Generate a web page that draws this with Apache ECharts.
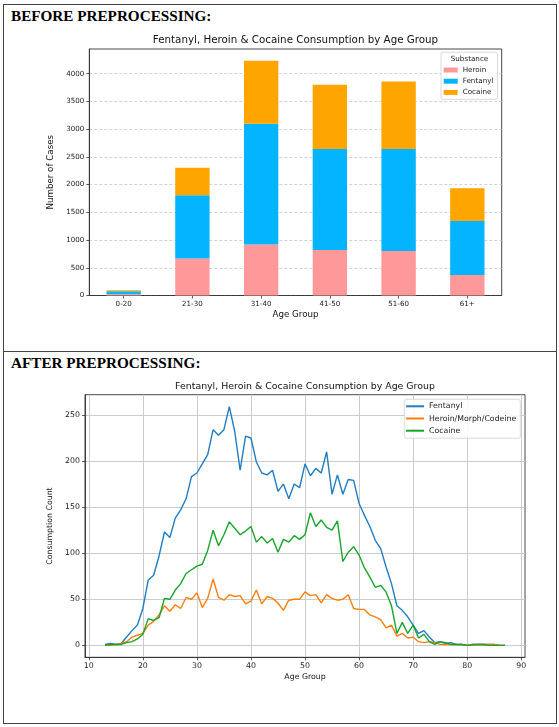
<!DOCTYPE html>
<html><head><meta charset="utf-8">
<script src="https://cdn.jsdelivr.net/npm/echarts@6/dist/echarts.min.js"></script>
<style>
html,body{margin:0;padding:0;background:#fff;width:559px;height:727px;overflow:hidden;}
#frame{position:absolute;left:3px;top:4px;width:554px;height:720px;border:1.4px solid #444;box-sizing:border-box;}
#divider{position:absolute;left:3px;top:351px;width:554px;height:0;border-top:1.4px solid #444;}
.hdr{position:absolute;left:11px;font-family:"Liberation Serif","Times New Roman",serif;font-weight:bold;font-size:15.2px;line-height:16px;color:#000;white-space:nowrap;}
#chart{position:absolute;left:0;top:0;width:559px;height:727px;}
</style></head><body>
<div id="frame"></div><div id="divider"></div>
<div class="hdr" style="top:7.6px">BEFORE PREPROCESSING:</div>
<div class="hdr" style="top:354.5px">AFTER PREPROCESSING:</div>
<div id="chart"></div>
<script>
// ---- Top chart data (stacked bars) ----
const ageGroups = ['0-20', '21-30', '31-40', '41-50', '51-60', '61+'];
const heroinCases = [24, 666, 918, 822, 804, 372];
const fentanylCases = [54, 1141, 2182, 1822, 1840, 973];
const cocaineCases = [18, 495, 1134, 1158, 1218, 588];
const barYTicks = [0, 500, 1000, 1500, 2000, 2500, 3000, 3500, 4000];

// ---- Bottom chart data (lines by age) ----
const ages = [13,14,15,16,17,18,19,20,21,22,23,24,25,26,27,28,29,30,31,32,33,34,35,36,37,38,39,40,
  41,42,43,44,45,46,47,48,49,50,51,52,53,54,55,56,57,58,59,60,61,62,63,64,65,66,67,68,69,70,
  71,72,73,74,75,76,77,78,79,80,81,82,83,84,85,86,87];
const fentanylCount = [1,2,1,2,9,16,22,40,71,76,97,123,117,138,147,159,183,187,197,207,234,228,234,259,232,190,227,225,
  199,187,185,190,167,175,159,175,171,197,184,192,187,210,164,185,164,180,179,154,141,129,114,105,85,67,43,38,31,22,
  13,16,9,3,4,2,3,1,1,0,1,1,1,1,1,0,0];
const heroinCount = [0,0,1,2,4,9,11,13,22,26,33,43,37,44,40,52,50,57,41,51,72,52,49,55,53,54,45,48,
  60,45,53,51,46,38,49,50,50,58,54,55,46,55,51,49,50,55,40,39,39,33,31,28,19,22,10,13,8,9,
  4,3,4,3,1,1,1,1,1,0,0,1,1,1,1,0,0];
const cocaineCount = [0,1,1,1,3,4,7,12,29,27,30,51,50,60,67,78,82,86,88,103,125,108,120,134,127,120,124,129,
  112,118,111,116,101,115,112,119,115,120,144,129,136,128,125,135,91,101,107,98,84,74,63,65,58,43,13,25,13,22,
  8,12,4,1,4,3,1,1,1,0,1,1,1,0,0,0,0];
const lineXTicks = [10, 20, 30, 40, 50, 60, 70, 80, 90];
const lineYTicks = [0, 50, 100, 150, 200, 250];

const FONT = 'DejaVu Sans';
const chart = echarts.init(document.getElementById('chart'), null, {renderer: 'canvas'});
const pair = (vals) => ages.map((a, i) => [a, vals[i]]);
const plain = (v) => String(v);

const option = {
  animation: false,
  textStyle: {fontFamily: FONT},
  graphic: [
    {type: 'text', z: 100, x: 295.5, y: 40.7, style: {text: 'Fentanyl, Heroin & Cocaine Consumption by Age Group', fontSize: 10.3, fontFamily: FONT, fill: '#111', align: 'center', verticalAlign: 'middle'}},
    {type: 'text', z: 100, x: 305, y: 386.7, style: {text: 'Fentanyl, Heroin & Cocaine Consumption by Age Group', fontSize: 9.4, fontFamily: FONT, fill: '#111', align: 'center', verticalAlign: 'middle'}},
    {type: 'text', z: 100, x: 469.5, y: 59, style: {text: 'Substance', fontSize: 7.2, fontFamily: FONT, fill: '#222', align: 'center', verticalAlign: 'middle'}}
  ],
  grid: [
    {left: 89.3, top: 49, width: 412.4, height: 246.5, show: true, borderColor: '#333', borderWidth: 0.9, backgroundColor: 'transparent'},
    {left: 85, top: 394.7, width: 440, height: 262.6, show: true, borderColor: '#333', borderWidth: 0.9, backgroundColor: 'transparent'}
  ],
  legend: [
    {
      data: ['Heroin', 'Fentanyl', 'Cocaine'], orient: 'vertical', left: 441, top: 52.3,
      itemWidth: 14, itemHeight: 5, itemGap: 3.2, icon: 'rect',
      padding: [13.7, 4, 3, 2.7], borderColor: '#d0d0d0', borderWidth: 0.8, borderRadius: 2,
      backgroundColor: 'rgba(255,255,255,0.85)',
      textStyle: {fontSize: 7.2, fontFamily: FONT, color: '#222', lineHeight: 8}
    },
    {
      data: ['Fentanyl ', 'Heroin/Morph/Codeine', 'Cocaine '], orient: 'vertical', left: 404.3, top: 399.3,
      itemWidth: 18, itemHeight: 2, itemGap: 3.2, icon: 'rect',
      padding: [2.5, 4, 3, 1.7], borderColor: '#d0d0d0', borderWidth: 0.8, borderRadius: 2,
      backgroundColor: 'rgba(255,255,255,0.85)',
      formatter: (n) => n.trim(),
      textStyle: {fontSize: 7.8, fontFamily: FONT, color: '#222', lineHeight: 9}
    }
  ],
  xAxis: [
    {
      type: 'category', gridIndex: 0, data: ageGroups, boundaryGap: true,
      axisLine: {show: true, lineStyle: {color: '#333', width: 0.9}},
      axisTick: {show: true, alignWithLabel: true, length: 3, lineStyle: {color: '#333', width: 0.8}},
      axisLabel: {fontSize: 7.1, color: '#222', margin: 5, fontFamily: FONT},
      splitLine: {show: false},
      name: 'Age Group', nameLocation: 'middle', nameGap: 15,
      nameTextStyle: {fontSize: 8.7, color: '#111', fontFamily: FONT}
    },
    {
      type: 'value', gridIndex: 1, min: 9.3, max: 90.7,
      axisLine: {show: true, onZero: false, lineStyle: {color: '#333', width: 0.9}},
      axisTick: {show: true, length: 3, customValues: lineXTicks, lineStyle: {color: '#333', width: 0.8}},
      axisLabel: {fontSize: 7.8, color: '#222', margin: 5, fontFamily: FONT, customValues: lineXTicks, formatter: plain},
      splitLine: {show: true, lineStyle: {color: '#cccccc', width: 1}},
      name: 'Age Group', nameLocation: 'middle', nameGap: 16,
      nameTextStyle: {fontSize: 7.8, color: '#111', fontFamily: FONT}
    }
  ],
  yAxis: [
    {
      type: 'value', gridIndex: 0, min: 0, max: 4446,
      axisLine: {show: true, lineStyle: {color: '#333', width: 0.9}},
      axisTick: {show: true, length: 3, customValues: barYTicks, lineStyle: {color: '#333', width: 0.8}},
      axisLabel: {fontSize: 7.1, color: '#222', margin: 5, fontFamily: FONT, customValues: barYTicks, formatter: plain},
      splitLine: {show: true, lineStyle: {color: '#c8c8c8', width: 0.8, type: [3, 2]}},
      name: 'Number of Cases', nameLocation: 'middle', nameGap: 28, nameRotate: 90,
      nameTextStyle: {fontSize: 8.7, color: '#111', fontFamily: FONT}
    },
    {
      type: 'value', gridIndex: 1, min: -12.95, max: 271.95,
      axisLine: {show: true, onZero: false, lineStyle: {color: '#333', width: 0.9}},
      axisTick: {show: true, length: 3, customValues: lineYTicks, lineStyle: {color: '#333', width: 0.8}},
      axisLabel: {fontSize: 7.8, color: '#222', margin: 5, fontFamily: FONT, customValues: lineYTicks, formatter: plain},
      splitLine: {show: true, lineStyle: {color: '#cccccc', width: 1}},
      name: 'Consumption Count', nameLocation: 'middle', nameGap: 25, nameRotate: 90,
      nameTextStyle: {fontSize: 7.8, color: '#111', fontFamily: FONT}
    }
  ],
  series: [
    {name: 'Heroin', type: 'bar', stack: 'total', xAxisIndex: 0, yAxisIndex: 0, barWidth: '50%', data: heroinCases, itemStyle: {color: '#FF9999'}},
    {name: 'Fentanyl', type: 'bar', stack: 'total', xAxisIndex: 0, yAxisIndex: 0, barWidth: '50%', data: fentanylCases, itemStyle: {color: '#05B4FE'}},
    {name: 'Cocaine', type: 'bar', stack: 'total', xAxisIndex: 0, yAxisIndex: 0, barWidth: '50%', data: cocaineCases, itemStyle: {color: '#FFA500'}},
    {name: 'Fentanyl ', type: 'line', xAxisIndex: 1, yAxisIndex: 1, symbol: 'none', data: pair(fentanylCount), lineStyle: {width: 1.4, color: '#1f7ec2'}, itemStyle: {color: '#1f7ec2'}},
    {name: 'Heroin/Morph/Codeine', type: 'line', xAxisIndex: 1, yAxisIndex: 1, symbol: 'none', data: pair(heroinCount), lineStyle: {width: 1.4, color: '#ff7f0e'}, itemStyle: {color: '#ff7f0e'}},
    {name: 'Cocaine ', type: 'line', xAxisIndex: 1, yAxisIndex: 1, symbol: 'none', data: pair(cocaineCount), lineStyle: {width: 1.4, color: '#16a52a'}, itemStyle: {color: '#16a52a'}}
  ]
};
chart.setOption(option);
</script>
</body></html>
